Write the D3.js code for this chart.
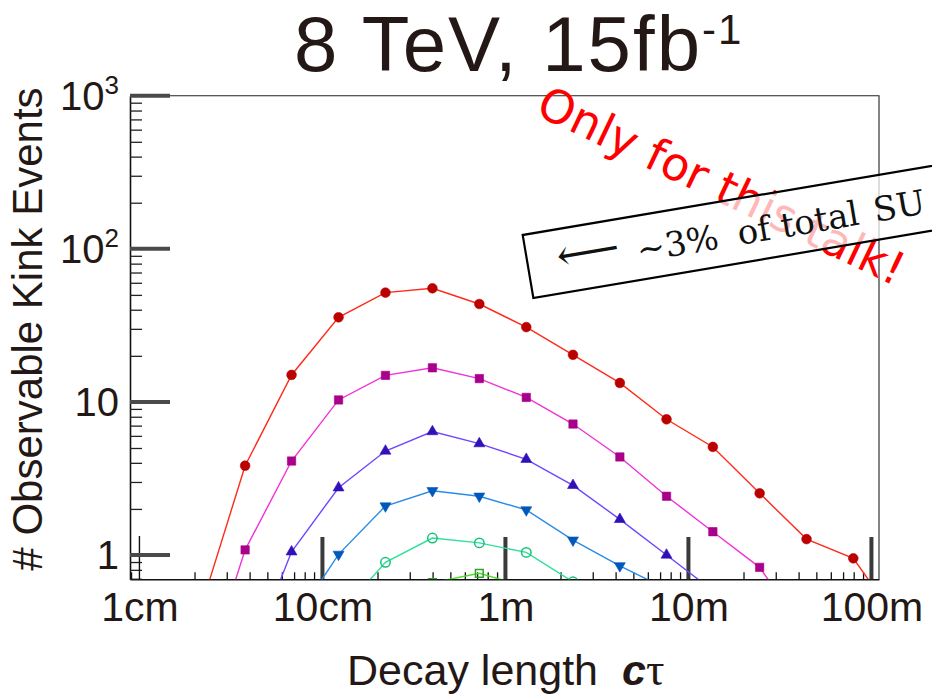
<!DOCTYPE html>
<html>
<head>
<meta charset="utf-8">
<script src="https://cdn.jsdelivr.net/npm/d3@7"></script>
<style>
body { margin: 0; background: #fff; }
text { font-family: "Liberation Sans", Arial, sans-serif; fill: #231815; }
</style>
</head>
<body>
<script>
var w = 932;
var h = 697;
var plotLeft = 130, plotRight = 879, plotTop = 95.7, plotBottom = 579.3;

// decay length c*tau in metres (one point per column)
var ctValues = [0.021, 0.0378, 0.0678, 0.1225, 0.221, 0.399, 0.720, 1.30, 2.34, 4.22, 7.59, 13.6, 24.5, 44.2, 79.6, 143];

// observable kink events, one array per curve (null = no point)
var eventsRed     = [0.40, 3.83, 15.0, 35.7, 51.7, 55.2, 43.6, 30.8, 20.3, 13.3, 7.70, 5.08, 2.53, 1.27, 0.951, 0.356];
var eventsMagenta = [0.12, 1.08, 4.11, 10.3, 14.9, 16.7, 14.2, 10.7, 7.17, 4.37, 2.42, 1.42, 0.831, 0.30, null, null];
var eventsViolet  = [null, 0.18, 1.05, 2.75, 4.78, 6.40, 5.34, 4.22, 2.85, 1.71, 1.00, 0.585, null, null, null, null];
var eventsBlue    = [null, null, 0.348, 1.01, 2.09, 2.63, 2.42, 1.97, 1.25, 0.85, 0.60, null, null, null, null, null];
var eventsTeal    = [null, null, null, 0.405, 0.896, 1.29, 1.20, 1.04, 0.668, null, null, null, null, null, null, null];
var eventsGreen   = [null, null, null, null, null, 0.66, 0.76, 0.62, null, null, null, null, null, null, null, null];

// axis labels
var xTickValues = [0.01, 0.1, 1, 10, 100];
var xTickLabels = ["1cm", "10cm", "1m", "10m", "100m"];
var yTickValues = [1, 10, 100, 1000];
var yTickBase   = ["1", "10", "10", "10"];
var yTickSup    = ["", "", "2", "3"];

var svg = d3.select("body")
            .append("svg")
            .attr("width", w)
            .attr("height", h);

var xScale = d3.scaleLog()
               .domain([0.00888, 110])
               .range([plotLeft, plotRight]);

var yScale = d3.scaleLog()
               .domain([0.694, 1000])
               .range([plotBottom, plotTop]);

// Title
var title = svg.append("text")
               .attr("x", 294)
               .attr("y", 70.7)
               .attr("font-size", 78)
               .attr("letter-spacing", 2)
               .text("8 TeV, 15fb");
title.append("tspan")
     .attr("font-size", 42)
     .attr("dy", -27)
     .text("-1");

// Frame: top and right thin lines
svg.append("path")
   .attr("d", "M" + plotLeft + "," + plotTop + "H" + plotRight + "V" + plotBottom)
   .attr("fill", "none")
   .attr("stroke", "#222")
   .attr("stroke-width", 1.1);

// minor ticks from the scales
var xMinor = xScale.ticks().filter(function(d) {
    return Math.abs(Math.log10(d) - Math.round(Math.log10(d))) > 1e-6;
});
var yMinor = yScale.ticks().filter(function(d) {
    return Math.abs(Math.log10(d) - Math.round(Math.log10(d))) > 1e-6;
});

svg.append("g")
   .attr("transform", "translate(0," + plotBottom + ")")
   .call(d3.axisBottom(xScale).tickValues(xMinor).tickSize(-7).tickSizeOuter(0).tickFormat(""))
   .call(function(g) {
       g.select(".domain").attr("stroke", "#111").attr("stroke-width", 1.6);
       g.selectAll(".tick line").attr("stroke", "#111").attr("stroke-width", 1.3);
   });

svg.append("g")
   .attr("transform", "translate(" + plotLeft + ",0)")
   .call(d3.axisLeft(yScale).tickValues(yMinor).tickSize(-12).tickSizeOuter(0).tickFormat(""))
   .call(function(g) {
       g.select(".domain").attr("stroke", "#111").attr("stroke-width", 1.6);
       g.selectAll(".tick line").attr("stroke", "#222").attr("stroke-width", 1.3);
   });

// major ticks: thick grey bars
svg.append("g")
   .selectAll("line")
   .data(xTickValues.slice(1))
   .enter()
   .append("line")
   .attr("x1", function(d) { return xScale(d); })
   .attr("x2", function(d) { return xScale(d); })
   .attr("y1", 537)
   .attr("y2", plotBottom)
   .attr("stroke", "#3a3a3a")
   .attr("stroke-width", 4);

// thin 1cm tick
svg.append("line")
   .attr("x1", xScale(xTickValues[0]))
   .attr("x2", xScale(xTickValues[0]))
   .attr("y1", 536)
   .attr("y2", plotBottom)
   .attr("stroke", "#111")
   .attr("stroke-width", 1.4);

svg.append("g")
   .selectAll("line")
   .data(yTickValues)
   .enter()
   .append("line")
   .attr("x1", plotLeft)
   .attr("x2", plotLeft + 40)
   .attr("y1", function(d) { return yScale(d); })
   .attr("y2", function(d) { return yScale(d); })
   .attr("stroke", "#4a4a4a")
   .attr("stroke-width", 4);

// x tick labels
svg.append("g")
   .attr("transform", "translate(0," + plotBottom + ")")
   .call(d3.axisBottom(xScale).tickValues(xTickValues).tickSize(0).tickPadding(13)
           .tickFormat(function(d, i) { return xTickLabels[i]; }))
   .call(function(g) {
       g.select(".domain").remove();
       g.selectAll("text")
        .attr("font-size", 41)
        .style("font-family", "Liberation Sans, Arial, sans-serif")
        .style("fill", "#231815");
   });

// y tick labels with superscripts
svg.append("g")
   .attr("transform", "translate(" + (plotLeft - 11) + ",0)")
   .call(d3.axisLeft(yScale).tickValues(yTickValues).tickSize(0).tickPadding(0).tickFormat(""))
   .call(function(g) {
       g.select(".domain").remove();
       g.selectAll(".tick text")
        .attr("font-size", 40)
        .style("fill", "#231815")
        .attr("dy", "0.34em")
        .each(function(d, i) {
            var t = d3.select(this);
            t.append("tspan").text(yTickBase[i]);
            if (yTickSup[i]) {
                t.append("tspan").attr("font-size", 26).attr("dy", -16).text(yTickSup[i]);
            }
        });
   });

// axis titles
svg.append("text")
   .attr("transform", "translate(42,329) rotate(-90)")
   .attr("text-anchor", "middle")
   .attr("font-size", 42)
   .text("# Observable Kink Events");

var xLabel = svg.append("text")
                .attr("x", 347)
                .attr("y", 685)
                .attr("font-size", 43)
                .text("Decay length");
xLabel.append("tspan")
      .attr("dx", 24)
      .attr("font-weight", "bold")
      .attr("font-style", "italic")
      .text("c");
xLabel.append("tspan")
      .style("font-family", "Liberation Serif, serif")
      .attr("font-size", 46)
      .text("\u03C4");

// curves
var series = [
    { values: eventsRed,     line: "#ff2a1a", mark: "#bb0000", symbol: d3.symbolCircle,   size: 74, open: false, rot: 0 },
    { values: eventsMagenta, line: "#f032d8", mark: "#a8008a", symbol: d3.symbolSquare,   size: 70, open: false, rot: 0 },
    { values: eventsViolet,  line: "#7046ff", mark: "#3210b8", symbol: d3.symbolTriangle, size: 52, open: false, rot: 0 },
    { values: eventsBlue,    line: "#2a8be8", mark: "#0058bb", symbol: d3.symbolTriangle, size: 52, open: false, rot: 180 },
    { values: eventsTeal,    line: "#2ee09a", mark: "#16c27a", symbol: d3.symbolCircle,   size: 70, open: true,  rot: 0 },
    { values: eventsGreen,   line: "#4fdc26", mark: "#2aa52a", symbol: d3.symbolSquare,   size: 60, open: true,  rot: 0 }
];

svg.append("clipPath")
   .attr("id", "plotClip")
   .append("rect")
   .attr("x", plotLeft)
   .attr("y", plotTop)
   .attr("width", plotRight - plotLeft)
   .attr("height", plotBottom - plotTop);

var plot = svg.append("g").attr("clip-path", "url(#plotClip)");

var line = d3.line()
             .defined(function(d) { return d[1] != null; })
             .x(function(d) { return xScale(d[0]); })
             .y(function(d) { return yScale(d[1]); });

series.forEach(function(s) {
    var pts = ctValues.map(function(c, i) { return [c, s.values[i]]; });
    plot.append("path")
        .datum(pts)
        .attr("d", line)
        .attr("fill", "none")
        .attr("stroke", s.line)
        .attr("stroke-width", 1.4);

    plot.selectAll(null)
        .data(pts.filter(function(d) { return d[1] != null; }))
        .enter()
        .append("path")
        .attr("d", d3.symbol().type(s.symbol).size(s.size))
        .attr("transform", function(d) {
            return "translate(" + xScale(d[0]) + "," + yScale(d[1]) + ") rotate(" + s.rot + ")";
        })
        .attr("fill", s.open ? "none" : s.mark)
        .attr("stroke", s.mark)
        .attr("stroke-width", s.open ? 1.5 : 0.6);
});

// overlay: red note, then the half-transparent box on top
svg.append("text")
   .attr("transform", "translate(534,114) rotate(25.5)")
   .style("font-family", "DejaVu Sans, sans-serif")
   .attr("font-size", 46)
   .style("fill", "#ff0000")
   .text("Only for this talk!");

var box = svg.append("g")
             .attr("transform", "translate(522.7,235) rotate(-9.6)");
box.append("rect")
   .attr("width", 460)
   .attr("height", 64)
   .attr("fill", "#fff")
   .attr("fill-opacity", 0.72)
   .attr("stroke", "#000")
   .attr("stroke-width", 2.2);
var note = box.append("text")
              .attr("y", 46)
              .style("font-family", "DejaVu Serif, serif")
              .attr("font-size", 34)
              .style("fill", "#111");
note.append("tspan").attr("x", 30).attr("y", 42).attr("font-size", 44).text("\u27F5");
note.append("tspan").attr("x", 110).attr("y", 46).text("\u223C3%");
note.append("tspan").attr("x", 212).text("of total");
note.append("tspan").attr("x", 350).text("SU");
</script>
</body>
</html>
